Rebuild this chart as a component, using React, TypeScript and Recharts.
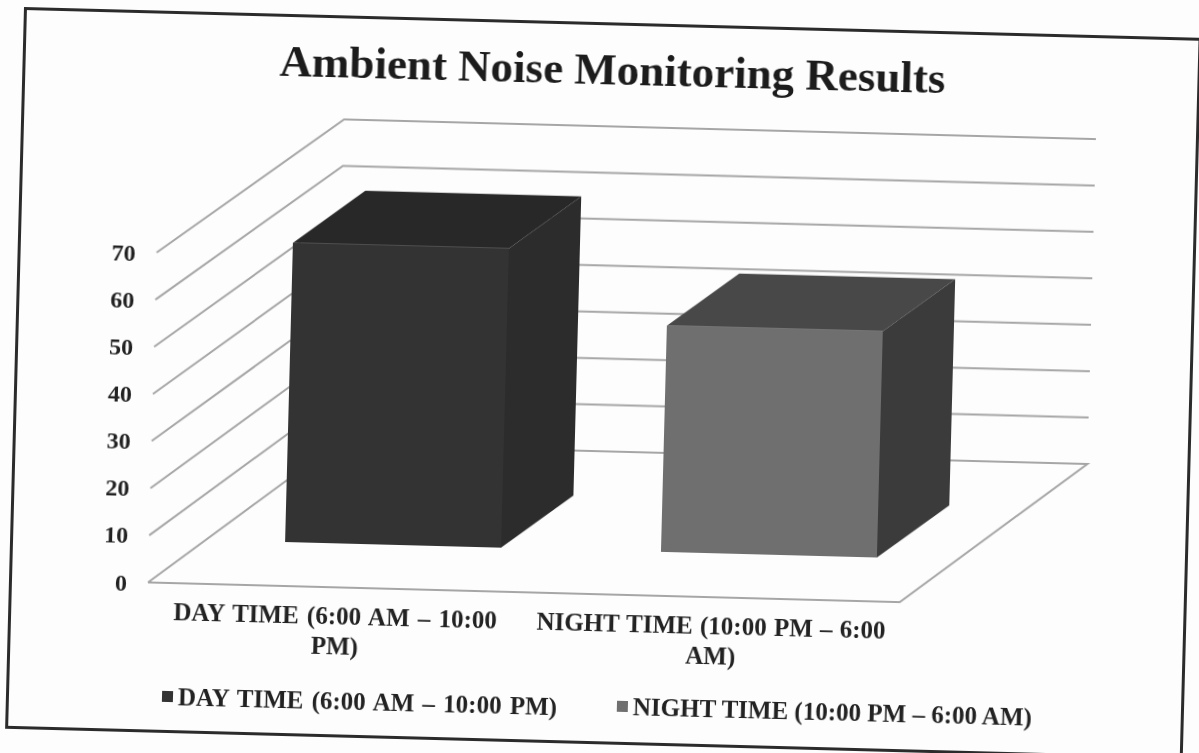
import React from "react";
import { BarChart, Bar, XAxis, YAxis, CartesianGrid, Legend } from "recharts";

const categories = ["DAY TIME (6:00 AM – 10:00 PM)", "NIGHT TIME (10:00 PM – 6:00 AM)"];
const noiseLevels = [63.5, 48];
const yTicks = [0, 10, 20, 30, 40, 50, 60, 70];
const tickLines = [
  ["DAY TIME (6:00 AM – 10:00", "PM)"],
  ["NIGHT TIME (10:00 PM – 6:00", "AM)"],
];
const frontColors = ["#333333", "#6f6f6f"];
const topColors = ["#282828", "#484848"];
const sideColors = ["#2c2c2c", "#3b3b3b"];

const data = categories.map((name, i) => ({ name, noise: noiseLevels[i] }));

const WIDTH = 1178;
const HEIGHT = 722;
const PLOT_LEFT = 139;
const PLOT_RIGHT = 891;
const PLOT_TOP = 242;
const PLOT_BOTTOM = 572;
const Y_AXIS_W = 40;
const X_AXIS_H = 90;
// floor depth of the fake 3d box
const DEPTH_X = 184;
const DEPTH_Y = 143;
const BACK_SCALE = 0.985; // back wall is a bit shorter than the front
const BAR_OFFSET_X = 56;
const BAR_OFFSET_Y = 44;
const BAR_DEPTH_X = 71;
const BAR_DEPTH_Y = 54;
const SERIF = "'Liberation Serif', serif";

const GridLine = (props: any) => {
  const { x1, y1, key } = props;
  const backY = PLOT_BOTTOM - DEPTH_Y - (PLOT_BOTTOM - y1) * BACK_SCALE;
  const backLeft = x1 + DEPTH_X;
  const backRight = PLOT_RIGHT + DEPTH_X;
  const isFloor = Math.abs(y1 - PLOT_BOTTOM) < 1;
  const pts = [`${x1},${y1}`, `${backLeft},${backY}`, `${backRight},${backY}`];
  if (isFloor) pts.push(`${PLOT_RIGHT},${PLOT_BOTTOM}`, `${x1},${y1}`);
  return <polyline key={key} points={pts.join(" ")} fill="none" stroke="#a6a6a6" strokeWidth={2} />;
};

const BoxBar = (props: any) => {
  const { x, y, width, height, index } = props;
  const l = x + BAR_OFFSET_X;
  const r = l + width;
  const t = y - BAR_OFFSET_Y;
  const b = t + height;
  const dx = BAR_DEPTH_X;
  const dy = BAR_DEPTH_Y;
  return (
    <g>
      <polygon points={`${l},${t} ${l + dx},${t - dy} ${r + dx},${t - dy} ${r},${t}`} fill={topColors[index]} />
      <polygon points={`${r},${t} ${r + dx},${t - dy} ${r + dx},${b - dy} ${r},${b}`} fill={sideColors[index]} />
      <rect x={l} y={t} width={width} height={height} fill={frontColors[index]} />
    </g>
  );
};

const CategoryTick = (props: any) => {
  const { x, y, index } = props;
  return (
    <text
      x={x}
      y={y}
      textAnchor="middle"
      fontFamily={SERIF}
      fontWeight="bold"
      fontSize={25}
      fill="#222"
      style={{ wordSpacing: index === 0 ? 2 : 1 }}
    >
      {tickLines[index].map((line, i) => (
        <tspan key={i} x={x} y={y + 29 + i * 30}>
          {line}
        </tspan>
      ))}
    </text>
  );
};

const ChartLegend = () => (
  <div style={{ position: "relative", width: WIDTH, height: 30, fontFamily: SERIF, fontWeight: "bold", fontSize: 25, color: "#222" }}>
    {categories.map((name, i) => (
      <div
        key={name}
        style={{
          position: "absolute",
          left: i === 0 ? 156 : 611,
          top: i === 0 ? 0 : -2,
          whiteSpace: "nowrap",
          wordSpacing: i === 0 ? 2 : 0,
        }}
      >
        <span style={{ display: "inline-block", width: 11, height: 11, background: frontColors[i], marginRight: 5, verticalAlign: 3 }} />
        {name}
      </div>
    ))}
  </div>
);

export default function App() {
  return (
    <div style={{ position: "absolute", left: 0, top: 0, width: 1199, height: 753, overflow: "hidden", background: "#fdfdfd" }}>
      <div
        style={{
          position: "absolute",
          left: 24,
          top: 7,
          width: WIDTH,
          height: HEIGHT,
          boxSizing: "border-box",
          border: "3px solid #2b2b2b",
          transform: "rotate(1.5deg)",
          transformOrigin: "0 0",
          filter: "blur(0.6px)",
        }}
      >
        <div style={{ position: "absolute", left: -3, top: -3 }}>
          <BarChart
            width={WIDTH}
            height={HEIGHT}
            data={data}
            barSize={216}
            margin={{
              left: PLOT_LEFT - Y_AXIS_W,
              right: WIDTH - PLOT_RIGHT,
              top: PLOT_TOP,
              bottom: HEIGHT - PLOT_BOTTOM - X_AXIS_H,
            }}
          >
            <CartesianGrid vertical={false} horizontal={GridLine} />
            <XAxis dataKey="name" axisLine={false} tickLine={false} interval={0} height={X_AXIS_H} tick={CategoryTick} />
            <YAxis
              domain={[0, 70]}
              ticks={yTicks}
              width={Y_AXIS_W}
              axisLine={false}
              tickLine={false}
              tickSize={0}
              tickMargin={21}
              tick={{ fontFamily: SERIF, fontWeight: "bold", fontSize: 24, fill: "#222" }}
            />
            <Bar dataKey="noise" shape={BoxBar} isAnimationActive={false} />
            <Legend
              content={ChartLegend}
              layout="horizontal"
              align="center"
              verticalAlign="middle"
              wrapperStyle={{ position: "absolute", left: 0, top: 672, width: WIDTH }}
            />
            <text x={590} y={62} textAnchor="middle" fontFamily={SERIF} fontWeight="bold" fontSize={45} fill="#1c1c1c">
              Ambient Noise Monitoring Results
            </text>
          </BarChart>
        </div>
      </div>
    </div>
  );
}
